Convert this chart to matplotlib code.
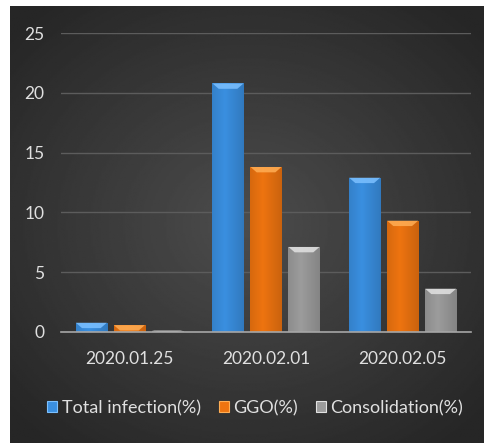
import numpy as np
import matplotlib
matplotlib.use("Agg")
import matplotlib.pyplot as plt
from matplotlib.patches import Patch

plt.rcParams['font.family'] = ['Lato', 'DejaVu Sans']

dates = ["2020.01.25", "2020.02.01", "2020.02.05"]
total_infection = [0.75, 20.8, 12.9]
ggo = [0.55, 13.8, 9.3]
consolidation = [0.1, 7.1, 3.6]

series = [("Total infection(%)", total_infection, "#3a8fe0", "#7cc0ff"),
          ("GGO(%)", ggo, "#ee7410", "#ffae55"),
          ("Consolidation(%)", consolidation, "#9c9c9c", "#e2e2e2")]

W, H = 484, 443
fig = plt.figure(figsize=(W / 100, H / 100), dpi=100)
fig.patch.set_facecolor("white")

# radial dark background panel
bg = fig.add_axes([10 / W, 0, 474 / W, 437 / H])
yy, xx = np.mgrid[-1:1:300j, -1:1:300j]
r = np.sqrt(xx ** 2 + (yy * 1.05) ** 2)
bg.imshow(0.30 - 0.15 * np.clip(r / 1.35, 0, 1), cmap="gray", vmin=0, vmax=1,
          aspect="auto", extent=[0, 1, 0, 1])
bg.axis("off")

ax = fig.add_axes([61 / W, (H - 331.7) / H, 410 / W, 298.4 / H])
ax.patch.set_alpha(0)
x = np.arange(len(dates))
width = 0.227
step = 0.278

for i, (name, vals, col, light) in enumerate(series):
    bars = ax.bar(x + (i - 1) * step, vals, width, color=col, zorder=3)
    for b in bars:
        x0, w, h = b.get_x(), b.get_width(), b.get_height()
        # horizontal shading across the bar
        g = np.linspace(0, 1, 50)
        shade = 1 - 0.35 * np.abs(g - 0.4) * 2
        im = ax.imshow(shade[None, :], cmap=matplotlib.colors.LinearSegmentedColormap.from_list(
            "s", [matplotlib.colors.to_rgb(col) * np.array(0.75), col]),
            vmin=0.3, vmax=1, extent=[x0, x0 + w, 0, h], aspect="auto", zorder=4)
        im.set_clip_path(b)
        # bevel on top
        bh = min(0.45, h)
        ax.fill([x0, x0 + w, x0 + w * 0.8, x0 + w * 0.2], [h, h, h - bh, h - bh],
                color=light, alpha=0.85, zorder=5, lw=0)

ax.set_xlim(-0.5, 2.5)
ax.set_ylim(0, 25)
ax.set_yticks([0, 5, 10, 15, 20, 25])
ax.set_xticks(x)
ax.set_xticklabels(dates)
ax.yaxis.grid(True, color="#5c5c5c", lw=1.0, zorder=0)
ax.set_axisbelow(True)
for s in ["top", "right", "left"]:
    ax.spines[s].set_visible(False)
ax.spines["bottom"].set_color("#a6a6a6")
ax.spines["bottom"].set_linewidth(1.2)
ax.spines["bottom"].set_zorder(6)
ax.tick_params(length=0, colors="#e0e0e0", labelsize=12.5)
ax.tick_params(axis="y", pad=12)
ax.tick_params(axis="x", pad=14)

handles = [Patch(facecolor=c, edgecolor=l, lw=0.8) for _, _, c, l in series]
leg = fig.legend(handles, [s[0] for s in series], loc="center", ncol=3,
                 bbox_to_anchor=(255 / W, 1 - 408 / H), frameon=False,
                 fontsize=13, labelcolor="#e0e0e0", handlelength=0.55,
                 handleheight=0.55, handletextpad=0.25, columnspacing=1.0)

fig.savefig("out.png", dpi=100, facecolor="white")
